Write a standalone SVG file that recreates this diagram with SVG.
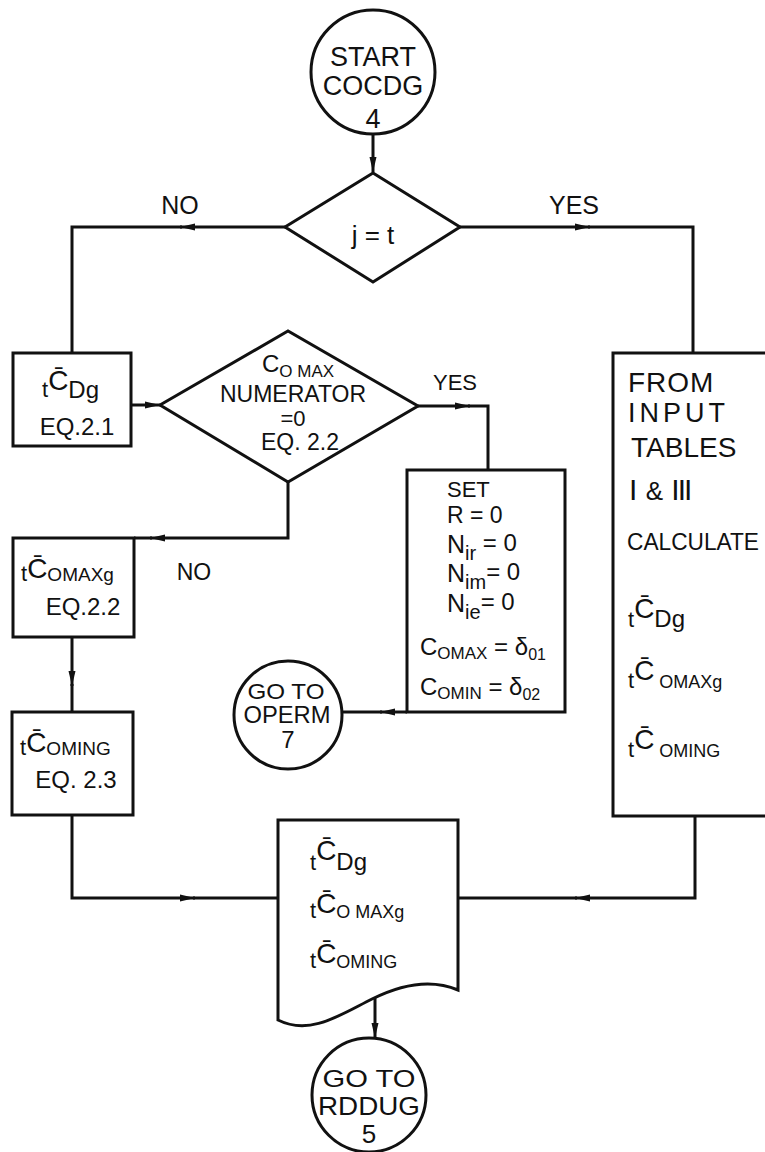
<svg xmlns="http://www.w3.org/2000/svg" width="765" height="1152" viewBox="0 0 765 1152">
<defs>
<style>
.s{fill:none;stroke:#111;stroke-width:3}
.n{fill:#fff;stroke:#111;stroke-width:3}
text{font-family:"Liberation Sans",Arial,sans-serif;fill:#111}
.c{text-anchor:middle}
</style>
<marker id="a" markerUnits="userSpaceOnUse" markerWidth="16" markerHeight="10" refX="15" refY="5" orient="auto">
<path d="M0,1.5 L15,5 L0,8.5 Z" fill="#111"/>
</marker>
</defs>
<rect width="765" height="1152" fill="#fff"/>
<g id="connectors">
<path class="s" d="M373,134 V172" marker-end="url(#a)"/>
<path class="s" d="M285,227 H180" marker-end="url(#a)"/>
<path class="s" d="M182,227 H72 V353"/>
<path class="s" d="M460,227 H590" marker-end="url(#a)"/>
<path class="s" d="M588,227 H693 V353"/>
<path class="s" d="M131,405 H160" marker-end="url(#a)"/>
<path class="s" d="M418,406 H470" marker-end="url(#a)"/>
<path class="s" d="M468,406 H488 V470"/>
<path class="s" d="M288,482 V538 H150" marker-end="url(#a)"/>
<path class="s" d="M152,538 H134"/>
<path class="s" d="M72,637 V686" marker-end="url(#a)"/>
<path class="s" d="M72,684 V712"/>
<path class="s" d="M407,712 H380" marker-end="url(#a)"/>
<path class="s" d="M382,712 H342"/>
<path class="s" d="M72,815 V898 H195" marker-end="url(#a)"/>
<path class="s" d="M193,898 H278"/>
<path class="s" d="M695,816 V898 H575" marker-end="url(#a)"/>
<path class="s" d="M577,898 H458"/>
<path class="s" d="M375,997 V1038" marker-end="url(#a)"/>
</g>
<g id="labels">
<text class="c" x="180" y="214" font-size="25">NO</text>
<text class="c" x="574" y="214" font-size="25">YES</text>
<text class="c" x="455" y="390" font-size="22">YES</text>
<text class="c" x="194" y="580" font-size="23">NO</text>
</g>
<g id="start">
<circle class="n" cx="373" cy="72" r="62"/>
<text class="c" x="373" y="66" font-size="27">START</text>
<text class="c" x="373" y="95" font-size="27">COCDG</text>
<text class="c" x="373" y="128" font-size="27">4</text>
</g>
<g id="d1">
<path class="n" d="M285,227 L373,173 L460,227 L373,282 Z"/>
<text class="c" x="373" y="244" font-size="26">j = t</text>
</g>
<g id="b1">
<rect class="n" x="13" y="353" width="118" height="93"/>
<text x="42" y="397"><tspan font-size="22">t</tspan><tspan font-size="28" dy="-7">C̄</tspan><tspan font-size="24" dy="8">Dg</tspan></text>
<text class="c" x="77" y="435" font-size="24">EQ.2.1</text>
</g>
<g id="d2">
<path class="n" d="M160,405 L288,331 L418,406 L288,482 Z"/>
<text x="262" y="372"><tspan font-size="24">C</tspan><tspan font-size="17" dy="5">O MAX</tspan></text>
<text class="c" x="293" y="402" font-size="23">NUMERATOR</text>
<text class="c" x="293" y="426" font-size="22">=0</text>
<text class="c" x="300" y="450" font-size="23">EQ. 2.2</text>
</g>
<g id="set">
<rect class="n" x="407" y="470" width="158" height="242"/>
<text x="447" y="497" font-size="22">SET</text>
<text x="447" y="523" font-size="23">R = 0</text>
<text x="447" y="553"><tspan font-size="25">N</tspan><tspan font-size="20" dy="7">ir</tspan><tspan font-size="24" dy="-9"> = 0</tspan></text>
<text x="447" y="582"><tspan font-size="25">N</tspan><tspan font-size="20" dy="7">im</tspan><tspan font-size="24" dy="-9">= 0</tspan></text>
<text x="447" y="612"><tspan font-size="25">N</tspan><tspan font-size="20" dy="7">ie</tspan><tspan font-size="24" dy="-9">= 0</tspan></text>
<text x="420" y="655"><tspan font-size="24">C</tspan><tspan font-size="17" dy="4">OMAX</tspan><tspan font-size="24" dy="-4"> = δ</tspan><tspan font-size="16" dy="5">01</tspan></text>
<text x="420" y="695"><tspan font-size="24">C</tspan><tspan font-size="17" dy="4">OMIN</tspan><tspan font-size="24" dy="-4"> = δ</tspan><tspan font-size="16" dy="5">02</tspan></text>
</g>
<g id="operm">
<circle class="n" cx="288" cy="715" r="54"/>
<text class="c" x="286" y="699" font-size="22" textLength="77" lengthAdjust="spacingAndGlyphs">GO TO</text>
<text class="c" x="287" y="723" font-size="23" textLength="87" lengthAdjust="spacingAndGlyphs">OPERM</text>
<text class="c" x="288" y="748" font-size="24">7</text>
</g>
<g id="b2">
<rect class="n" x="13" y="538" width="121" height="99"/>
<text x="21" y="581"><tspan font-size="22">t</tspan><tspan font-size="28" dy="-3">C̄</tspan><tspan font-size="19" dy="3">OMAXg</tspan></text>
<text class="c" x="83" y="615" font-size="24">EQ.2.2</text>
</g>
<g id="b3">
<rect class="n" x="12" y="712" width="121" height="103"/>
<text x="20" y="755"><tspan font-size="22">t</tspan><tspan font-size="28" dy="-3">C̄</tspan><tspan font-size="19" dy="3">OMING</tspan></text>
<text class="c" x="76" y="788" font-size="24">EQ. 2.3</text>
</g>
<g id="tables">
<path class="n" d="M772,353 H613 V816 H772"/>
<text x="628" y="392" font-size="28" letter-spacing="1">FROM</text>
<text x="628" y="422" font-size="27" letter-spacing="4">INPUT</text>
<text x="631" y="457" font-size="28">TABLES</text>
<text x="629" y="500" font-family="Liberation Serif" font-size="30">I <tspan font-family="Liberation Sans" font-size="26">&amp;</tspan> <tspan letter-spacing="-2">III</tspan></text>
<text x="627" y="550" font-size="24" textLength="132" lengthAdjust="spacingAndGlyphs">CALCULATE</text>
<text x="628" y="627"><tspan font-size="22">t</tspan><tspan font-size="28" dy="-9">C̄</tspan><tspan font-size="24" dy="9">Dg</tspan></text>
<text x="628" y="688"><tspan font-size="22">t</tspan><tspan font-size="28" dy="-8">C̄</tspan><tspan font-size="18" dy="8"> OMAXg</tspan></text>
<text x="628" y="757"><tspan font-size="22">t</tspan><tspan font-size="28" dy="-8">C̄</tspan><tspan font-size="18" dy="8"> OMING</tspan></text>
</g>
<g id="doc">
<path class="n" d="M278,820 H458 V990 C430,978 400,985 372,999 C340,1015 310,1036 278,1020 Z"/>
<text x="310" y="870"><tspan font-size="22">t</tspan><tspan font-size="28" dy="-10">C̄</tspan><tspan font-size="24" dy="10">Dg</tspan></text>
<text x="310" y="918"><tspan font-size="22">t</tspan><tspan font-size="28" dy="-5">C̄</tspan><tspan font-size="18" dy="5">O MAXg</tspan></text>
<text x="310" y="968"><tspan font-size="22">t</tspan><tspan font-size="28" dy="-5">C̄</tspan><tspan font-size="18" dy="5">OMING</tspan></text>
</g>
<g id="end">
<circle class="n" cx="369" cy="1095" r="57"/>
<text class="c" x="369" y="1087" font-size="24" textLength="93" lengthAdjust="spacingAndGlyphs">GO  TO</text>
<text class="c" x="369" y="1115" font-size="25" textLength="102" lengthAdjust="spacingAndGlyphs">RDDUG</text>
<text class="c" x="369" y="1143" font-size="26">5</text>
</g>
</svg>
